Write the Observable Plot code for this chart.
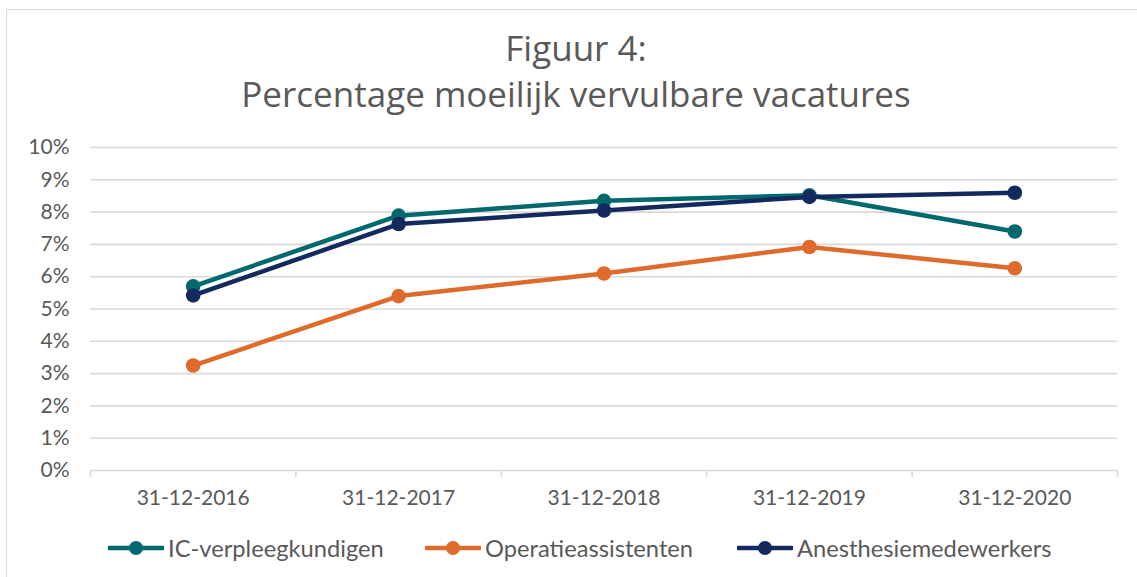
<!DOCTYPE html>
<html>
<head>
<meta charset="utf-8">
<script src="https://cdn.jsdelivr.net/npm/d3@7"></script>
<script src="https://cdn.jsdelivr.net/npm/@observablehq/plot@0.6"></script>
<style>
  html, body { margin: 0; padding: 0; background: #fff; }
  #wrap { position: relative; width: 1137px; height: 577px; overflow: hidden; font-family: Lato, sans-serif; color: #595959; }
  #frame { position: absolute; left: 6px; top: 9px; width: 1145px; height: 590px; border: 1.5px solid #d9d9d9; box-sizing: border-box; }
  #title { position: absolute; left: 10px; width: 1132px; top: 25px; text-align: center; font-family: "Open Sans", sans-serif; font-size: 35px; line-height: 46px; }
  #chart { position: absolute; left: 0; top: 130px; }
  .leg { position: absolute; top: 536px; height: 24px; display: flex; align-items: center; font-size: 23.7px; white-space: nowrap; }
  .leg svg { margin-right: 4px; }
</style>
</head>
<body>
<div id="wrap">
  <div id="frame"></div>
  <div id="title">Figuur 4:<br>Percentage moeilijk vervulbare vacatures</div>
  <div id="chart"></div>
  <div id="legend"></div>
</div>
<script>
const categories = ["31-12-2016", "31-12-2017", "31-12-2018", "31-12-2019", "31-12-2020"];
const seriesNames = ["IC-verpleegkundigen", "Operatieassistenten", "Anesthesiemedewerkers"];
const seriesColors = ["#01686D", "#DE6A2B", "#142A5F"];
const icVerpleegkundigen = [5.70, 7.89, 8.35, 8.52, 7.40];
const operatieassistenten = [3.25, 5.40, 6.10, 6.92, 6.26];
const anesthesiemedewerkers = [5.42, 7.63, 8.05, 8.47, 8.60];
const yTicks = [0, 1, 2, 3, 4, 5, 6, 7, 8, 9, 10];

const seriesValues = [icVerpleegkundigen, operatieassistenten, anesthesiemedewerkers];
const data = seriesNames.flatMap((s, k) =>
  seriesValues[k].map((v, i) => ({series: s, i: i + 0.5, value: v}))
);
const edges = d3.range(categories.length + 1);
const grey = "#595959";

const plot = Plot.plot({
  width: 1137,
  height: 385,
  marginTop: 17,
  marginBottom: 45,
  marginLeft: 90,
  marginRight: 20,
  style: {fontFamily: "Lato, sans-serif", fontSize: "21px", color: grey, background: "transparent"},
  x: {type: "linear", domain: [0, categories.length], label: null},
  y: {domain: [0, 10], label: null},
  color: {domain: seriesNames, range: seriesColors},
  marks: [
    Plot.ruleY(yTicks.filter(d => d > 0), {stroke: "#d9d9d9", strokeWidth: 1.6}),
    Plot.ruleY([0], {stroke: "#d9d9d9", strokeWidth: 1.6}),
    Plot.ruleX(edges, {y1: 0, y2: 0, insetBottom: -7, stroke: "#d9d9d9", strokeWidth: 1.6}),
    Plot.axisY({ticks: yTicks, tickSize: 0, tickPadding: 21, label: null, tickFormat: d => d + "%", fill: grey, fontSize: 21}),
    Plot.axisX({ticks: categories.map((c, i) => i + 0.5), tickSize: 0, tickPadding: 20, label: null,
      tickFormat: d => categories[Math.floor(d)], fill: grey, fontSize: 21}),
    Plot.line(data, {x: "i", y: "value", z: "series", stroke: "series", strokeWidth: 4.5}),
    Plot.dot(data, {x: "i", y: "value", fill: "series", r: 7.3})
  ]
});
document.getElementById("chart").appendChild(plot);

const legendLeft = [108, 425, 737];
const legend = document.getElementById("legend");
seriesNames.forEach((name, k) => {
  const item = document.createElement("div");
  item.className = "leg";
  item.style.left = legendLeft[k] + "px";
  item.innerHTML = `<svg width="56" height="20"><line x1="1" y1="10" x2="55" y2="10" stroke="${seriesColors[k]}" stroke-width="4.5" stroke-linecap="round"/><circle cx="28" cy="10" r="7" fill="${seriesColors[k]}"/></svg><span>${name}</span>`;
  legend.appendChild(item);
});
</script>
</body>
</html>
